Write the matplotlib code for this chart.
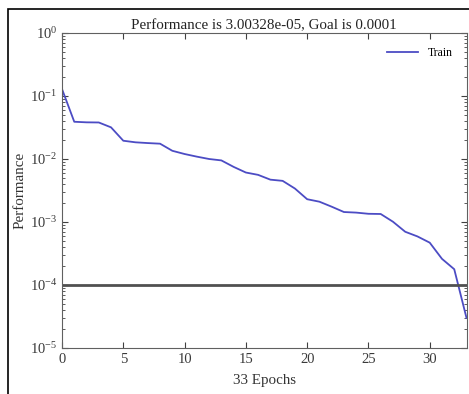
import matplotlib
matplotlib.use("Agg")
import matplotlib.pyplot as plt
from matplotlib.patches import Rectangle
import numpy as np

# Training performance per epoch
epochs = list(range(34))
train_perf = [0.129, 0.039, 0.0382, 0.038, 0.0318, 0.0195, 0.0184, 0.0179,
              0.0175, 0.0135, 0.012, 0.0109, 0.0100, 0.0095, 0.0075, 0.0061,
              0.0056, 0.0047, 0.0045, 0.0034, 0.0023, 0.0021, 0.00175,
              0.00144, 0.00141, 0.00135, 0.00134, 0.00101, 0.00070, 0.00059,
              0.00047, 0.00026, 0.000178, 3.00328e-05]
goal = 1e-4
x_ticks = [0, 5, 10, 15, 20, 25, 30]
y_ticks = [1e-5, 1e-4, 1e-3, 1e-2, 1e-1, 1e0]

plt.rcParams['font.family'] = ['Liberation Serif', 'DejaVu Serif']
plt.rcParams['mathtext.fontset'] = 'stix'

fig = plt.figure(figsize=(4.69, 3.94), dpi=100)
# outer frame of the screenshot (cropped on right/bottom)
fig.patches.append(Rectangle((8 / 469, -0.1), 1.2, 1.1 - 9 / 394,
                             transform=fig.transFigure, fill=False,
                             edgecolor='black', linewidth=1.2))

ax = fig.add_axes([62 / 469, 1 - 348 / 394, (466.5 - 62) / 469, (348 - 33) / 394])
ax.semilogy(epochs, train_perf, color='#4c4cc4', linewidth=1.3, label='Train')
ax.axhline(goal, color='#505050', linewidth=2)

ax.set_xlim(0, 33)
ax.set_ylim(1e-5, 1e0)
ax.set_xticks(x_ticks)
ax.set_yticks(y_ticks)
ax.tick_params(which='both', direction='in', top=True, right=True,
               labelsize=10.5, colors='#404040', labelcolor='#3a3a3a')
ax.tick_params(which='major', length=4)
ax.tick_params(which='minor', length=2)
for s in ax.spines.values():
    s.set_color('#606060')

ax.set_title('Performance is 3.00328e-05, Goal is 0.0001', fontsize=10.8,
             color='#222222', pad=3)
ax.set_xlabel('33 Epochs', fontsize=10.8, color='#333333', labelpad=6)
ax.set_ylabel('Performance', fontsize=10.8, color='#333333', labelpad=2)
ax.legend(loc='upper right', frameon=False, fontsize=8.5, handlelength=2.6,
          borderaxespad=0.8)

fig.savefig('out.png', dpi=100)
